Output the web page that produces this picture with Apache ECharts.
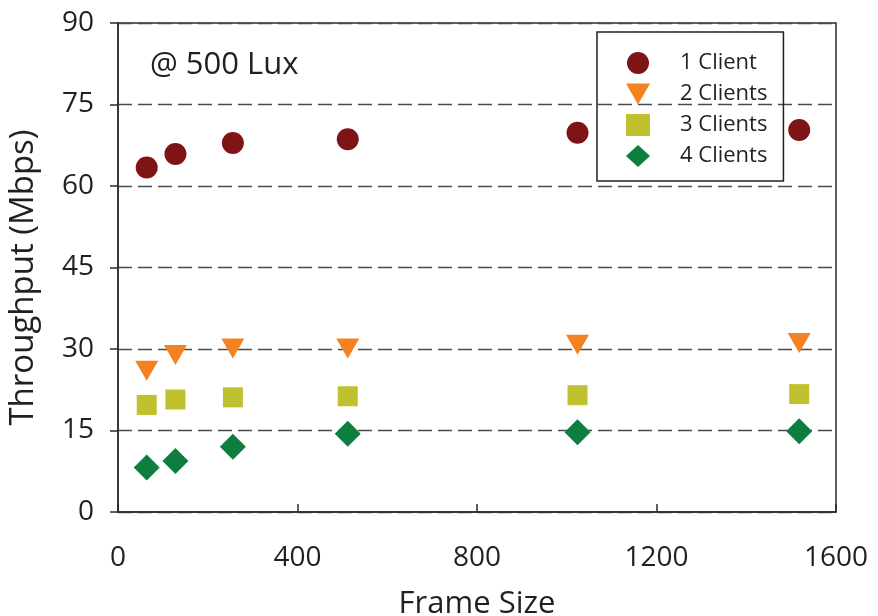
<!DOCTYPE html>
<html>
<head>
<meta charset="utf-8">
<script src="https://cdn.jsdelivr.net/npm/echarts@6/dist/echarts.min.js"></script>
<style>
html,body{margin:0;padding:0;background:#fff;}
#chart{width:878px;height:616px;}
</style>
</head>
<body>
<div id="chart"></div>
<script>
const frameSizes = [64, 128, 256, 512, 1024, 1518];
const client1 = [63.4, 65.9, 67.9, 68.6, 69.8, 70.3];
const client2 = [26.0, 28.9, 30.1, 30.1, 30.8, 31.1];
const client3 = [19.7, 20.7, 21.1, 21.3, 21.5, 21.7];
const client4 = [8.2, 9.4, 12.0, 14.4, 14.7, 14.85];
const seriesNames = ['1 Client', '2 Clients', '3 Clients', '4 Clients'];
const yTicks = [0, 15, 30, 45, 60, 75, 90];
const xTicks = [0, 400, 800, 1200, 1600];

const FONT = '"Open Sans", sans-serif';
const pairs = arr => frameSizes.map((x, i) => [x, arr[i]]);
const downTriangle = 'path://M0,0 L23,0 L11.5,20 Z';

const chart = echarts.init(document.getElementById('chart'), null, {renderer: 'canvas'});
chart.setOption({
  animation: false,
  backgroundColor: '#fff',
  grid: {left: 118, right: 42, top: 23, bottom: 104, containLabel: false, outerBoundsMode: 'none',
    show: true, borderColor: '#2b2b2b', borderWidth: 1.5, backgroundColor: 'transparent'},
  title: {
    text: '@ 500 Lux', left: 145, top: 45,
    textStyle: {fontFamily: FONT, fontSize: 31, fontWeight: 'normal', color: '#231f20'}
  },
  legend: {
    orient: 'vertical', left: 597, top: 32,
    padding: [20, 16, 14, 29],
    itemWidth: 24, itemHeight: 22, itemGap: 9,
    borderColor: '#231f20', borderWidth: 1.5,
    data: [
      {name: seriesNames[0], icon: 'circle'},
      {name: seriesNames[1], icon: downTriangle},
      {name: seriesNames[2], icon: 'rect'},
      {name: seriesNames[3], icon: 'diamond'}
    ],
    textStyle: {fontFamily: FONT, fontSize: 22, color: '#231f20', padding: [0, 0, 0, 25]}
  },
  xAxis: {
    type: 'value', min: 0, max: 1600, interval: 400,
    name: 'Frame Size', nameLocation: 'middle', nameGap: 77,
    nameTextStyle: {fontFamily: FONT, fontSize: 31, color: '#231f20'},
    axisLine: {show: true, lineStyle: {color: '#2b2b2b', width: 1.5}},
    axisTick: {show: true, inside: true, length: 8, lineStyle: {color: '#2b2b2b', width: 1.5}},
    axisLabel: {fontFamily: FONT, fontSize: 28, color: '#231f20', margin: 32,
      formatter: v => xTicks.includes(v) ? String(v) : ''},
    splitLine: {show: false}
  },
  yAxis: {
    type: 'value', min: 0, max: 90, interval: 15,
    name: 'Throughput (Mbps)', nameLocation: 'middle', nameGap: 78,
    nameTextStyle: {fontFamily: FONT, fontSize: 33, color: '#231f20', padding: [0, 20, 0, 0]},
    axisLine: {show: true, lineStyle: {color: '#2b2b2b', width: 1.5}},
    axisTick: {show: true, inside: false, length: 8, lineStyle: {color: '#2b2b2b', width: 1.5}},
    axisLabel: {fontFamily: FONT, fontSize: 28, color: '#231f20', margin: 24,
      formatter: v => yTicks.includes(v) ? String(v) : ''},
    splitLine: {show: true, lineStyle: {color: '#4a4a4a', width: 1.3, type: [14, 6]}}
  },
  series: [
    {name: seriesNames[0], type: 'scatter', data: pairs(client1), symbol: 'circle', symbolSize: 22,
      itemStyle: {color: '#7f1416', opacity: 1}},
    {name: seriesNames[1], type: 'scatter', data: pairs(client2), symbol: 'triangle', symbolSize: [23, 20], symbolRotate: 180,
      itemStyle: {color: '#f58220', opacity: 1}},
    {name: seriesNames[2], type: 'scatter', data: pairs(client3), symbol: 'rect', symbolSize: 20,
      itemStyle: {color: '#c0c12f', opacity: 1}},
    {name: seriesNames[3], type: 'scatter', data: pairs(client4), symbol: 'diamond', symbolSize: 26,
      itemStyle: {color: '#0c7f3f', opacity: 1}}
  ]
});
</script>
</body>
</html>
